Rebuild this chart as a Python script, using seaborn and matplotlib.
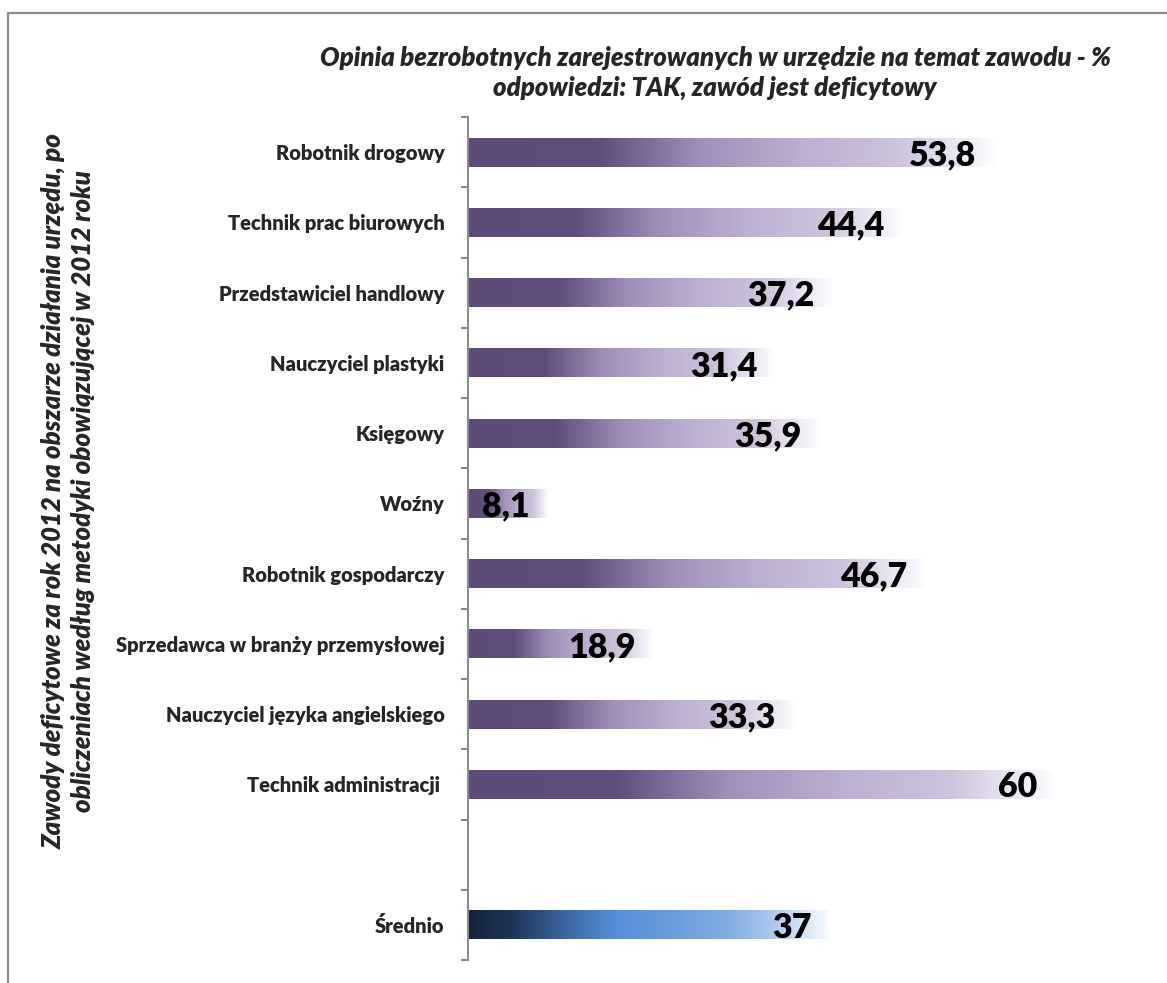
import numpy as np
import pandas as pd
import matplotlib
matplotlib.use("Agg")
import matplotlib.pyplot as plt
from matplotlib.colors import LinearSegmentedColormap
from matplotlib.lines import Line2D
import seaborn as sns

# Occupations and share of "TAK" answers (%)
categories = [
    "Robotnik drogowy",
    "Technik prac biurowych",
    "Przedstawiciel handlowy",
    "Nauczyciel plastyki",
    "Księgowy",
    "Woźny",
    "Robotnik gospodarczy",
    "Sprzedawca w branży przemysłowej",
    "Nauczyciel języka angielskiego",
    "Technik administracji ",
]
values = [53.8, 44.4, 37.2, 31.4, 35.9, 8.1, 46.7, 18.9, 33.3, 60]
average_label = "Średnio"
average_value = 37
value_labels = ["53,8", "44,4", "37,2", "31,4", "35,9", "8,1", "46,7", "18,9", "33,3", "60"]
average_text = "37"

title = ("Opinia bezrobotnych zarejestrowanych w urzędzie na temat zawodu - %\n"
         "odpowiedzi: TAK, zawód jest deficytowy")
ylabel = ("Zawody deficytowe za rok 2012 na obszarze działania urzędu, po\n"
          "obliczeniach według metodyki obowiązującej w 2012 roku")

sns.set_style("white")
plt.rcParams["font.family"] = ["Lato", "DejaVu Sans"]
HEAVY = "heavy"

W, H = 1167, 983
fig = plt.figure(figsize=(W / 100, H / 100), dpi=100)
ax = fig.add_axes([468 / W, 1 - 960 / H, 635 / W, (960 - 117) / H])

gap = " "
order = categories + [gap, average_label]
df = pd.DataFrame({
    "zawod": categories + [average_label],
    "proc": values + [average_value],
})

sns.barplot(data=df, x="proc", y="zawod", order=order, orient="h",
            width=0.41, color="#604C7B", errorbar=None, ax=ax)

purple = LinearSegmentedColormap.from_list("purple", [
    (0.00, "#5F4B7A"), (0.25, "#614D7C"), (0.44, "#A08EB8"),
    (0.63, "#BCAED0"), (0.82, "#CDC3DC"), (0.91, "#E5E0EE"), (1.00, "#FDFCFE")])
blue = LinearSegmentedColormap.from_list("blue", [
    (0.00, "#13223C"), (0.12, "#1E3558"), (0.28, "#3E6AA5"), (0.41, "#5590DA"),
    (0.55, "#6A9ADB"), (0.72, "#80ACE2"), (0.86, "#B3CDEE"), (1.00, "#FAFCFF")])

grad = np.linspace(0, 1, 256).reshape(1, -1)
texts = dict(zip(categories, value_labels))
texts[average_label] = average_text
for patch in list(ax.patches):
    x0 = patch.get_x()
    w = patch.get_width()
    if not np.isfinite(w) or w == 0:
        continue
    y0 = patch.get_y()
    h = patch.get_height()
    idx = int(round(y0 + h / 2))
    name = order[idx]
    cmap = blue if name == average_label else purple
    patch.set_facecolor("none")
    patch.set_edgecolor("none")
    im = ax.imshow(grad, cmap=cmap, aspect="auto", extent=[x0, x0 + w, y0 + h, y0],
                   interpolation="bicubic", zorder=2)
    im.set_clip_path(patch)
    ax.annotate(texts[name], xy=(x0 + w, y0 + h / 2), xytext=(-12.5, 0),
                textcoords="offset points", ha="right", va="center_baseline",
                fontsize=24.5, fontweight=HEAVY, color="black", zorder=3)

ax.set_xlim(0, 65)
ax.set_ylim(len(order) - 0.5, -0.5)

# axes styling
for s in ("top", "right", "bottom"):
    ax.spines[s].set_visible(False)
ax.spines["left"].set_color("#8C8C8C")
ax.spines["left"].set_linewidth(1.5)
ax.set_xticks([])
ax.set_xlabel("")
ax.set_ylabel("")
ax.set_yticks(range(len(order)))
ax.set_yticklabels(order, fontsize=14.5, fontweight=HEAVY)
ax.tick_params(axis="y", which="major", left=False, length=0, pad=17)
ax.set_yticks(np.arange(-0.5, len(order), 1.0), minor=True)
ax.tick_params(axis="y", which="minor", left=True, length=5, width=1.5,
               color="#8C8C8C", direction="out")

fig.text(715 / W, 1 - 73 / H, title, ha="center", va="center", fontsize=18.5,
         fontweight=HEAVY, fontstyle="italic", linespacing=1.25)
fig.text(68 / W, 1 - 491 / H, ylabel, ha="center", va="center", rotation=90,
         fontsize=18.5, fontweight=HEAVY, fontstyle="italic", linespacing=1.25)

# outer chart frame
fx = 8 / W
fy = 1 - 13 / H
fig.add_artist(Line2D([fx, fx, 1.0], [0.0, fy, fy], transform=fig.transFigure,
                      color="#8C8C8C", lw=1.6))

fig.savefig("out.png", dpi=100)
